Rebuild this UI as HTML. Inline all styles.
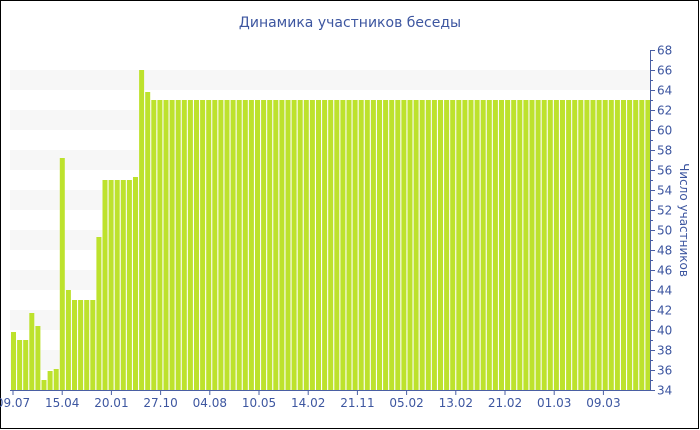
<!DOCTYPE html>
<html><head><meta charset="utf-8"><style>
html,body{margin:0;padding:0;background:#fff}
svg{display:block}
text{font-family:"DejaVu Sans","Liberation Sans",sans-serif;fill:#3d56a0}
</style></head><body>
<svg width="700" height="430" viewBox="0 0 700 430" xmlns="http://www.w3.org/2000/svg">
<rect x="0.5" y="0.5" width="698" height="428" fill="#fff" stroke="#000" stroke-width="1"/>
<text x="350" y="27" font-size="14" text-anchor="middle">Динамика участников беседы</text>
<g fill="#f7f7f7" id="bands"></g>
<g fill="#bde22d" id="bars"></g>
<g stroke="#4a5fa3" stroke-width="1" id="axes"></g>
<g font-size="12" id="labels"></g>
<text transform="translate(680,220) rotate(90)" font-size="12" text-anchor="middle">Число участников</text>
</svg>
<script>
var ns="http://www.w3.org/2000/svg";
function el(p,t,a,txt){var e=document.createElementNS(ns,t);for(var k in a)e.setAttribute(k,a[k]);if(txt)e.textContent=txt;document.getElementById(p).appendChild(e);}
function Y(v){return 390-(v-34)*10;}
for(var v=36;v<=64;v+=4){el("bands","rect",{x:10,y:Y(v+2),width:640,height:20});}
var d=[39.8,39,39,41.7,40.4,35,35.9,36.1,57.2,44,43,43,43,43,49.3,55,55,55,55,55,55.3,66,63.8];
while(d.length<105)d.push(63);
for(var i=0;i<d.length;i++){var x=11+i*6.1;el("bars","rect",{x:x.toFixed(2),y:Y(d[i]),width:5,height:390-Y(d[i])});}
el("axes","line",{x1:10,y1:390.5,x2:650,y2:390.5});
el("axes","line",{x1:650.5,y1:50,x2:650.5,y2:391});
for(var v=34;v<=68;v++){var y=Y(v)+0.5;el("axes","line",{x1:650,y1:y,x2:v%2?653:655,y2:y});
 if(v%2==0)el("labels","text",{x:657,y:Y(v)+4.5},String(v));}
var L=["09.07","15.04","20.01","27.10","04.08","10.05","14.02","21.11","05.02","13.02","21.02","01.03","09.03"];
for(var i=0;i<L.length;i++){var x=13+i*49.2;el("axes","line",{x1:x,y1:390,x2:x,y2:395});
 el("labels","text",{x:x,y:407,"text-anchor":"middle"},L[i]);}
</script>
</body></html>
